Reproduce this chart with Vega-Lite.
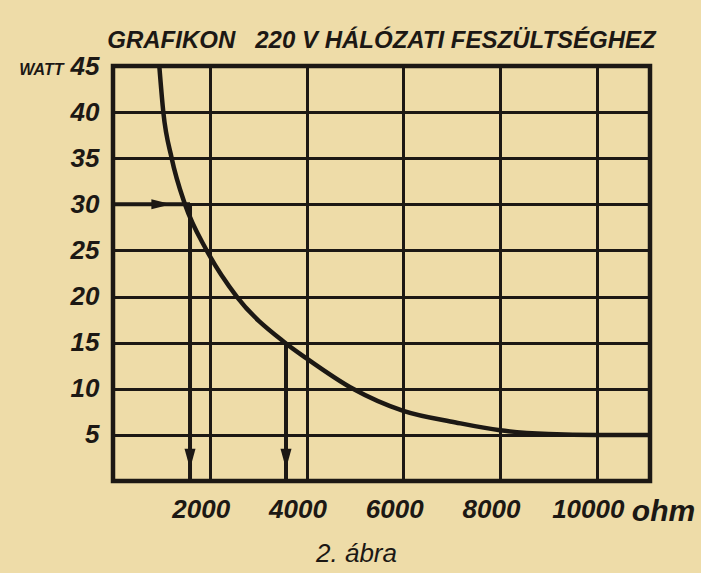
{
  "$schema": "https://vega.github.io/schema/vega-lite/v6.json",
  "width": 537,
  "height": 415,
  "autosize": {"type": "none"},
  "padding": {"left": 113, "top": 66, "right": 51, "bottom": 92},
  "background": "#EEDCA8",
  "title": {
    "text": "GRAFIKON\u00a0\u00a0\u00a0220 V HÁLÓZATI FESZÜLTSÉGHEZ",
    "font": "Liberation Sans",
    "fontSize": 24,
    "fontWeight": "bold",
    "fontStyle": "italic",
    "color": "#1c1814",
    "anchor": "middle",
    "offset": 0
  },
  "config": {
    "view": {"stroke": "#1c1814", "strokeWidth": 4.5},
    "axis": {
      "labelFont": "Liberation Sans",
      "labelFontSize": 26,
      "labelFontWeight": "bold",
      "labelFontStyle": "italic",
      "labelColor": "#1c1814",
      "titleFont": "Liberation Sans",
      "titleColor": "#1c1814",
      "gridColor": "#1c1814",
      "gridWidth": 3,
      "gridOpacity": 1,
      "ticks": false,
      "domain": false
    }
  },
  "datasets": {
    "curve": [
      {"R": 957, "W": 45},
      {"R": 1040, "W": 40},
      {"R": 1213, "W": 35},
      {"R": 1488, "W": 30},
      {"R": 1937, "W": 25},
      {"R": 2557, "W": 20},
      {"R": 3555, "W": 15},
      {"R": 4000, "W": 13.3},
      {"R": 4960, "W": 10},
      {"R": 6000, "W": 7.6},
      {"R": 7085, "W": 6.35},
      {"R": 8000, "W": 5.5},
      {"R": 9000, "W": 5.1},
      {"R": 10000, "W": 5.0},
      {"R": 11100, "W": 5.0}
    ],
    "arrows": [
      {"R": 0, "R2": 1592, "W": 30, "W2": 30},
      {"R": 1592, "R2": 1592, "W": 30, "W2": 0},
      {"R": 3576, "R2": 3576, "W": 15, "W2": 0}
    ],
    "heads": [
      {"R": 1000, "W": 30, "dir": "right"},
      {"R": 1592, "W": 2.4, "dir": "down"},
      {"R": 3576, "W": 2.4, "dir": "down"}
    ]
  },
  "layer": [
    {
      "data": {"name": "curve"},
      "mark": {"type": "line", "color": "#1c1814", "strokeWidth": 4.5, "interpolate": "monotone"},
      "encoding": {
        "x": {
          "field": "R",
          "type": "quantitative",
          "scale": {"domain": [0, 11100], "nice": false, "zero": false},
          "axis": {
            "values": [2000, 4000, 6000, 8000, 10000, 11100],
            "format": "d",
            "labelExpr": "datum.value > 10500 ? 'ohm' : datum.label",
            "labelOffset": {"condition": {"test": "datum.value > 10500", "value": 13}, "value": -9},
            "labelFontSize": {"condition": {"test": "datum.value > 10500", "value": 30}, "value": 26},
            "gridOpacity": {"condition": {"test": "datum.value > 10500", "value": 0}, "value": 1},
            "labelFlush": false,
            "labelOverlap": false,
            "labelPadding": 15,
            "grid": true,
            "title": "2. ábra",
            "titleFontSize": 26,
            "titleFontWeight": "normal",
            "titleFontStyle": "italic",
            "titleX": 243,
            "titleY": 80,
            "titleAlign": "center",
            "titleBaseline": "alphabetic"
          }
        },
        "y": {
          "field": "W",
          "type": "quantitative",
          "scale": {"domain": [0, 45], "nice": false, "zero": true},
          "axis": {
            "values": [5, 10, 15, 20, 25, 30, 35, 40, 45],
            "labelPadding": 14,
            "labelOverlap": false,
            "labelFlush": false,
            "grid": true,
            "title": "WATT",
            "titleFontSize": 16,
            "titleFontWeight": "bold",
            "titleFontStyle": "italic",
            "titleAngle": 0,
            "titleX": -50,
            "titleY": 3,
            "titleAlign": "right",
            "titleBaseline": "middle"
          }
        }
      }
    },
    {
      "data": {"name": "arrows"},
      "mark": {"type": "rule", "color": "#1c1814", "strokeWidth": 4},
      "encoding": {
        "x": {"field": "R", "type": "quantitative"},
        "x2": {"field": "R2"},
        "y": {"field": "W", "type": "quantitative"},
        "y2": {"field": "W2"}
      }
    },
    {
      "data": {"name": "heads"},
      "mark": {"type": "point", "filled": true, "color": "#1c1814", "size": 400, "opacity": 1},
      "encoding": {
        "x": {"field": "R", "type": "quantitative"},
        "y": {"field": "W", "type": "quantitative"},
        "shape": {
          "field": "dir",
          "type": "nominal",
          "scale": {"domain": ["down", "right"], "range": ["M-0.55,-1L0.55,-1L0,1Z", "M-1,-0.5L1,0L-1,0.5Z"]},
          "legend": null
        }
      }
    }
  ]
}
